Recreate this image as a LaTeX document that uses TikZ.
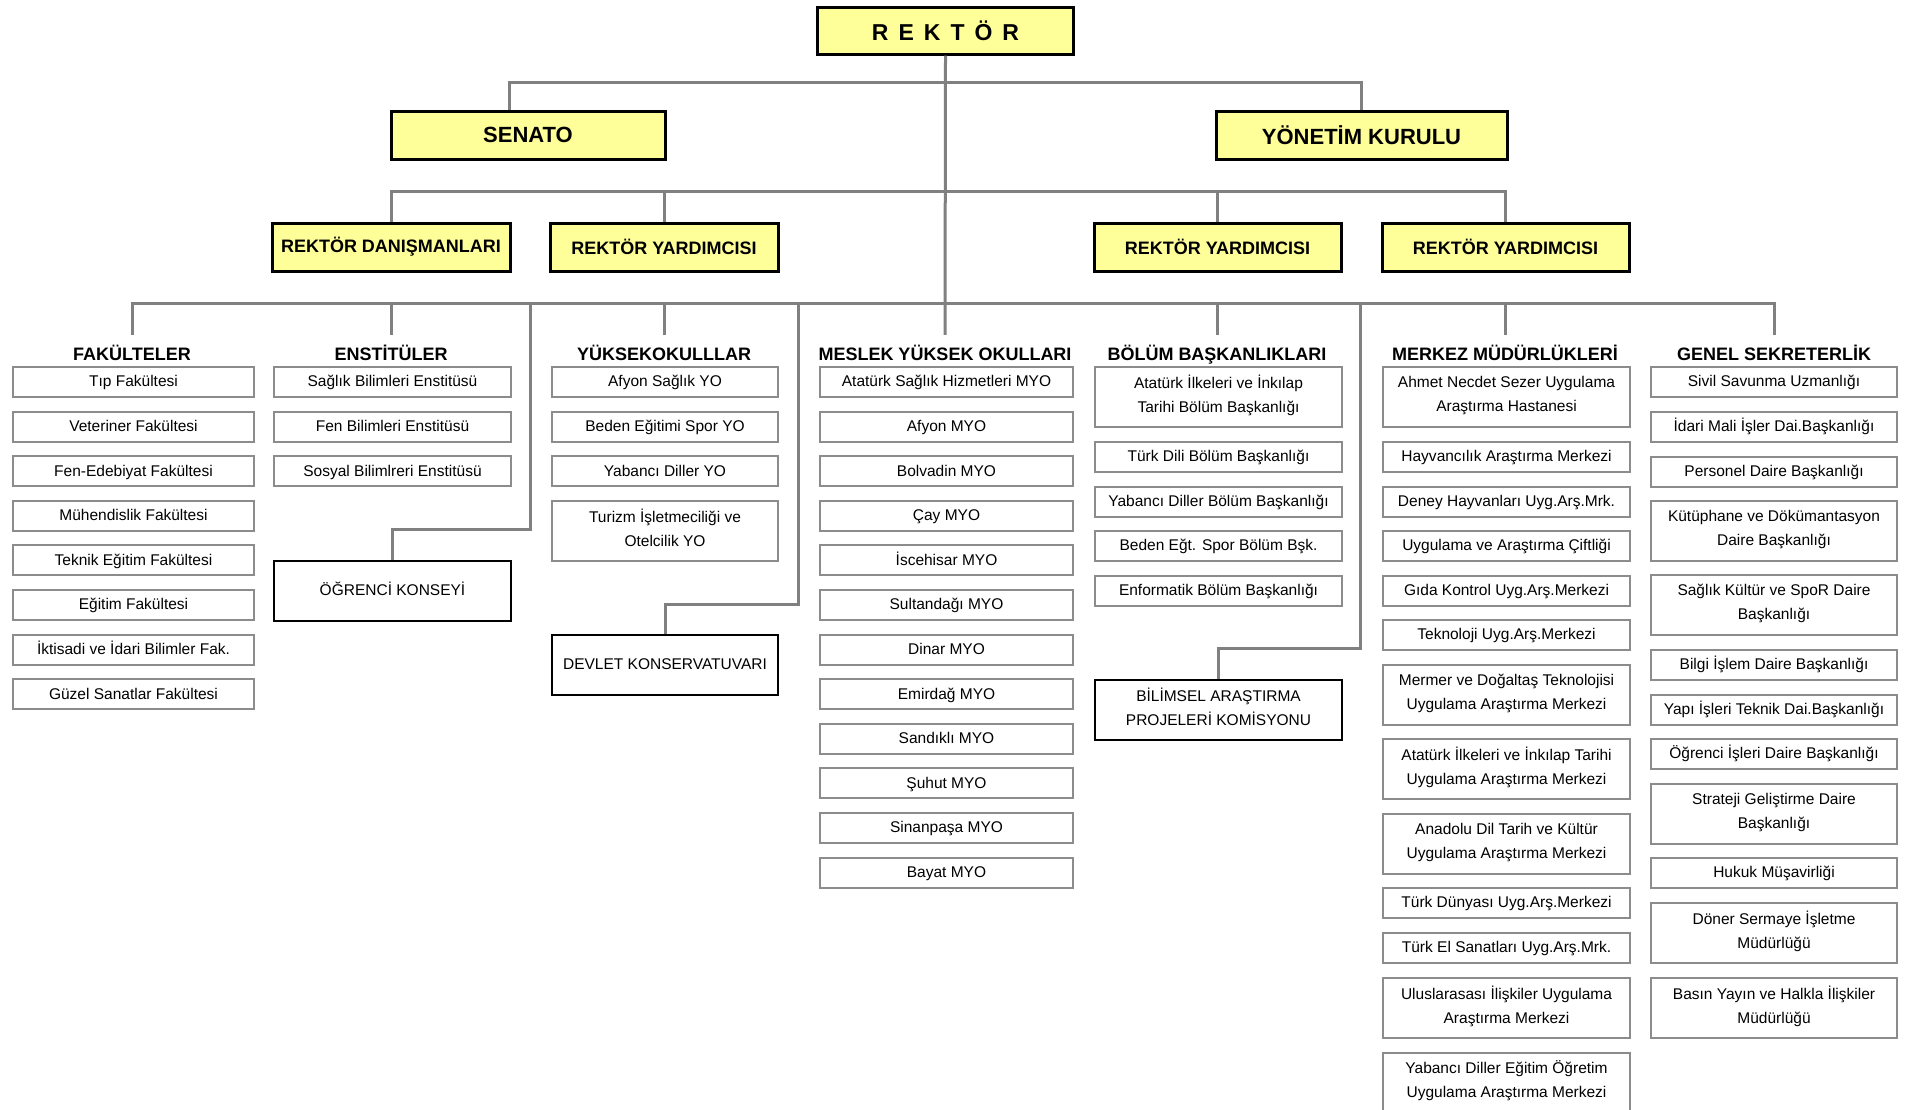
\documentclass[tikz,border=0pt]{standalone}
\usepackage{fontspec}
\setmainfont{Liberation Sans}
\definecolor{boxyellow}{RGB}{255,255,153}
\definecolor{linegray}{RGB}{128,128,128}
\definecolor{unitgray}{RGB}{140,140,140}
\tikzset{
  link/.style={draw=linegray, line width=3pt},
  chief/.style={draw=black, line width=3pt, fill=boxyellow, inner sep=0pt},
  unit/.style={draw=unitgray, line width=2pt, fill=white, align=center, inner sep=0pt,
    minimum height=30, font=\fontsize{15.5}{24}\selectfont,
    execute at begin node=\strut, execute at end node=\strut},
  council/.style={draw=black, line width=2pt, fill=white, align=center, inner sep=0pt,
    minimum height=60, font=\fontsize{15.5}{24}\selectfont,
    execute at begin node=\strut, execute at end node=\strut},
  header/.style={font=\bfseries\fontsize{18}{18}\selectfont, anchor=base, inner sep=0pt,
    text height=25pt, text depth=0pt}
}

\begin{document}
\begin{tikzpicture}[x=1pt, y=-1pt]
  \useasboundingbox (0,0) rectangle (1905,1109);

  % top of the chart
  \node[chief, minimum width=256, minimum height=47, font=\bfseries\fontsize{23}{23}\selectfont] (rektor) at (945.5,30.5)
    {R\hspace{10pt}E\hspace{10pt}K\hspace{10pt}T\hspace{10pt}Ö\hspace{10pt}R};
  \node[chief, minimum width=274, minimum height=48, font=\bfseries\fontsize{22}{22}\selectfont] (senato) at (528,135) {SENATO};
  \node[chief, minimum width=291, minimum height=48, font=\bfseries\fontsize{22}{22}\selectfont] (yonetim) at (1361.5,135) {YÖNETİM KURULU};
  \node[chief, minimum width=238, minimum height=48, font=\bfseries\fontsize{18}{18}\selectfont] (rd) at (391,247) {REKTÖR DANIŞMANLARI};
  \node[chief, minimum width=228, minimum height=48, font=\bfseries\fontsize{18}{18}\selectfont] (ry1) at (664,247) {REKTÖR YARDIMCISI};
  \node[chief, minimum width=247, minimum height=48, font=\bfseries\fontsize{18}{18}\selectfont] (ry2) at (1217.5,247) {REKTÖR YARDIMCISI};
  \node[chief, minimum width=247, minimum height=48, font=\bfseries\fontsize{18}{18}\selectfont] (ry3) at (1505.5,247) {REKTÖR YARDIMCISI};

  % column headers
  \node[header] (fakhd) at (132,360) {FAKÜLTELER};
  \node[header] (ensthd) at (391,360) {ENSTİTÜLER};
  \node[header] (yohd) at (664,360) {YÜKSEKOKULLLAR};
  \node[header] (myohd) at (945,360) {MESLEK YÜKSEK OKULLARI};
  \node[header] (bolhd) at (1217,360) {BÖLÜM BAŞKANLIKLARI};
  \node[header] (merhd) at (1505,360) {MERKEZ MÜDÜRLÜKLERİ};
  \node[header] (genhd) at (1774,360) {GENEL SEKRETERLİK};

  % columns
  \foreach \t [count=\i from 0] in {Tıp Fakültesi, Veteriner Fakültesi, Fen-Edebiyat Fakültesi,
      Mühendislik Fakültesi, Teknik Eğitim Fakültesi, Eğitim Fakültesi,
      İktisadi ve İdari Bilimler Fak., Güzel Sanatlar Fakültesi}
    \node[unit, minimum width=241] (fak\i) at (133.5,382+44.6*\i) {\t};

  \foreach \t [count=\i from 0] in {Sağlık Bilimleri Enstitüsü, Fen Bilimleri Enstitüsü,
      Sosyal Bilimlreri Enstitüsü}
    \node[unit, minimum width=237] (enst\i) at (392.5,382+44.6*\i) {\t};
  \node[council, minimum width=237] (ogrenci) at (392.5,591) {ÖĞRENCİ KONSEYİ};

  \foreach \t [count=\i from 0] in {Afyon Sağlık YO, Beden Eğitimi Spor YO, Yabancı Diller YO}
    \node[unit, minimum width=226] (yo\i) at (665,382+44.6*\i) {\t};
  \node[unit, minimum width=226, minimum height=60] (yo3) at (665,531) {Turizm İşletmeciliği ve\\Otelcilik YO};
  \node[council, minimum width=226] (devlet) at (665,665) {DEVLET KONSERVATUVARI};

  \foreach \t [count=\i from 0] in {Atatürk Sağlık Hizmetleri MYO, Afyon MYO, Bolvadin MYO, Çay MYO,
      İscehisar MYO, Sultandağı MYO, Dinar MYO, Emirdağ MYO, Sandıklı MYO, Şuhut MYO,
      Sinanpaşa MYO, Bayat MYO}
    \node[unit, minimum width=253] (myo\i) at (946.5,382+44.6*\i) {\t};

  \foreach \y/\h/\t [count=\i] in {397/60/{Atatürk İlkeleri ve İnkılap\\Tarihi Bölüm Başkanlığı},
      457/30/{Türk Dili Bölüm Başkanlığı}, 501.5/30/{Yabancı Diller Bölüm Başkanlığı},
      546/30/{Beden Eğt. Spor Bölüm Bşk.}, 590.5/30/{Enformatik Bölüm Başkanlığı}}
    \node[unit, minimum width=247, minimum height=\h] (bol\i) at (1218.5,\y) {\t};
  \node[council, minimum width=247] (bilimsel) at (1218.5,710) {BİLİMSEL ARAŞTIRMA\\PROJELERİ KOMİSYONU};

  \foreach \y/\h/\t [count=\i] in {397/60/{Ahmet Necdet Sezer Uygulama\\Araştırma Hastanesi},
      457/30/{Hayvancılık Araştırma Merkezi}, 501.5/30/{Deney Hayvanları Uyg.Arş.Mrk.},
      546/30/{Uygulama ve Araştırma Çiftliği}, 590.5/30/{Gıda Kontrol Uyg.Arş.Merkezi},
      635/30/{Teknoloji Uyg.Arş.Merkezi},
      695/60/{Mermer ve Doğaltaş Teknolojisi\\Uygulama Araştırma Merkezi},
      769/60/{Atatürk İlkeleri ve İnkılap Tarihi\\Uygulama Araştırma Merkezi},
      844/60/{Anadolu Dil Tarih ve Kültür\\Uygulama Araştırma Merkezi},
      903/30/{Türk Dünyası Uyg.Arş.Merkezi}, 948/30/{Türk El Sanatları Uyg.Arş.Mrk.},
      1008/60/{Uluslarasası İlişkiler Uygulama\\Araştırma Merkezi},
      1083/60/{Yabancı Diller Eğitim Öğretim\\Uygulama Araştırma Merkezi}}
    \node[unit, minimum width=247, minimum height=\h] (mer\i) at (1506.5,\y) {\t};

  \foreach \y/\h/\t [count=\i] in {382/30/{Sivil Savunma Uzmanlığı},
      427/30/{İdari Mali İşler Dai.Başkanlığı}, 471.5/30/{Personel Daire Başkanlığı},
      531/60/{Kütüphane ve Dökümantasyon\\Daire Başkanlığı},
      605/60/{Sağlık Kültür ve SpoR Daire\\Başkanlığı},
      665/30/{Bilgi İşlem Daire Başkanlığı}, 710/30/{Yapı İşleri Teknik Dai.Başkanlığı},
      754/30/{Öğrenci İşleri Daire Başkanlığı},
      814/60/{Strateji Geliştirme Daire\\Başkanlığı},
      873/30/{Hukuk Müşavirliği},
      933/60/{Döner Sermaye İşletme\\Müdürlüğü},
      1008/60/{Basın Yayın ve Halkla İlişkiler\\Müdürlüğü}}
    \node[unit, minimum width=246, minimum height=\h] (gen\i) at (1774,\y) {\t};

  % connectors
  \coordinate (bus1) at (945,82);
  \coordinate (bus2) at (945,191);
  \coordinate (bus3) at (945,303);
  \coordinate (ogrturn) at (530,529);
  \coordinate (devturn) at (798,604);
  \coordinate (bilturn) at (1360,648);

  \draw[link] (rektor.south) -- (myohd.north);
  \draw[link] ([xshift=-19]senato.north) |- (bus1) -| (yonetim.north);
  \draw[link] (rd.north) |- (bus2) -| (ry3.north);
  \draw[link] (ry1.north) -- (ry1.north |- bus2);
  \draw[link] (ry2.north) -- (ry2.north |- bus2);
  \draw[link] (fakhd.north) |- (bus3) -| (genhd.north);
  \foreach \h in {ensthd, yohd, bolhd, merhd}
    \draw[link] (\h.north) -- (\h.north |- bus3);
  \draw[link] (ogrenci.north) |- (ogrturn) -- (ogrturn |- bus3);
  \draw[link] (devlet.north) |- (devturn) -- (devturn |- bus3);
  \draw[link] (bilimsel.north) |- (bilturn) -- (bilturn |- bus3);
\end{tikzpicture}
\end{document}
